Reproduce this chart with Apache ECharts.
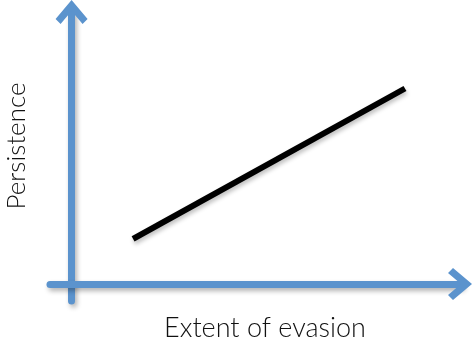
<!DOCTYPE html>
<html>
<head>
<meta charset="utf-8">
<script src="https://cdn.jsdelivr.net/npm/echarts@6/dist/echarts.min.js"></script>
<style>
  html, body { margin: 0; padding: 0; background: #fff; }
  #main { width: 473px; height: 345px; }
</style>
</head>
<body>
<div id="main"></div>
<script>
// data (arbitrary units, origin where the axes cross)
var xRange = [-1, 18];
var yRange = [-1, 16];
var trendX = [2.85, 15.45];
var trendY = [2.65, 11.5];
var xTitle = 'Extent of evasion';
var yTitle = 'Persistence';

var axisBlue = '#5b93cd';
// open chevron arrow head, pointing up (echarts rotates it along the axis)
var chevron = 'path://M16 0 L32 19 L27 24 L16 11 L5 24 L0 19 Z';

var chart = echarts.init(document.getElementById('main'));

var axisCommon = {
    type: 'value',
    axisLine: {
        show: true,
        onZero: true,
        symbol: ['none', chevron],
        symbolSize: [32, 24],
        lineStyle: {
            color: axisBlue,
            width: 7,
            shadowColor: 'rgba(0,0,0,0.3)',
            shadowBlur: 5,
            shadowOffsetX: 2,
            shadowOffsetY: 3
        }
    },
    axisTick: { show: false },
    axisLabel: { show: false },
    splitLine: { show: false }
};

chart.setOption({
    backgroundColor: '#ffffff',
    animation: false,
    grid: { left: 50, right: 13, top: 12, bottom: 44 },
    xAxis: Object.assign({}, axisCommon, { min: xRange[0], max: xRange[1] }),
    yAxis: Object.assign({}, axisCommon, { min: yRange[0], max: yRange[1] }),
    series: [{
        type: 'line',
        data: trendX.map(function (x, i) { return [x, trendY[i]]; }),
        showSymbol: false,
        lineStyle: {
            color: '#000',
            width: 6,
            cap: 'butt',
            shadowColor: 'rgba(0,0,0,0.25)',
            shadowBlur: 4,
            shadowOffsetX: 1,
            shadowOffsetY: 3
        },
        z: 1
    }],
    graphic: [
        {
            type: 'text',
            x: 265, y: 328,
            style: {
                text: xTitle,
                font: '300 27px Lato',
                fill: '#111',
                align: 'center',
                verticalAlign: 'middle'
            }
        },
        {
            type: 'text',
            x: 17, y: 146,
            rotation: Math.PI / 2,
            style: {
                text: yTitle,
                font: '300 26px Lato',
                fill: '#111',
                align: 'center',
                verticalAlign: 'middle'
            }
        }
    ]
});
</script>
</body>
</html>
